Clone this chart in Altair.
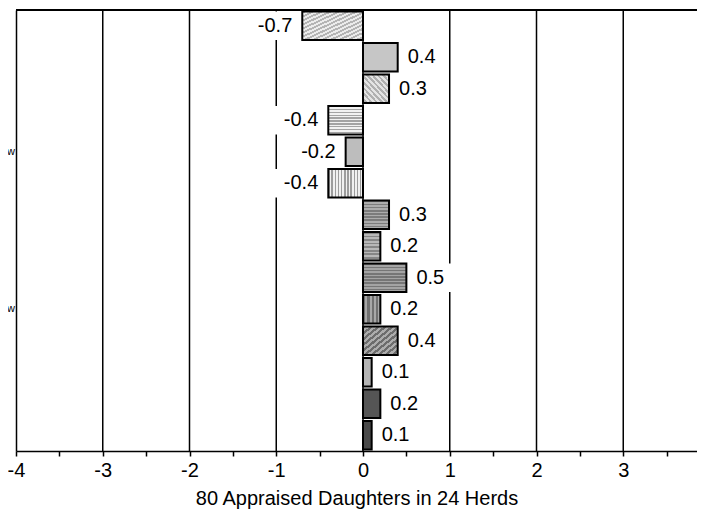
import altair as alt
import pandas as pd

# ---- data ----
rows = list(range(1, 15))
values = [-0.7, 0.4, 0.3, -0.4, -0.2, -0.4, 0.3, 0.2, 0.5, 0.2, 0.4, 0.1, 0.2, 0.1]
x_ticks = [-4, -3.5, -3, -2.5, -2, -1.5, -1, -0.5, 0, 0.5, 1, 1.5, 2, 2.5, 3, 3.5]
grid_at = [-3, -2, -1, 0, 1, 2, 3]
side_rows = [5, 10]
side_text = ["w", "w"]
x_title = "80 Appraised Daughters in 24 Herds"

PLOT_W = 681
XMIN = -4
XMAX = XMIN + PLOT_W / 86.75   # the reference's 86.75 px per unit; its right part is cut off
FONT = "Liberation Sans"
FS = 20


def stripes(c1, c2, n, x1, y1, x2, y2):
    stops = []
    for k in range(n):
        a, m, b = k / n, (k + 0.5) / n, (k + 1) / n
        stops += [
            {"offset": a, "color": c1},
            {"offset": m, "color": c1},
            {"offset": m, "color": c2},
            {"offset": b, "color": c2},
        ]
    return {"gradient": "linear", "x1": x1, "y1": y1, "x2": x2, "y2": y2, "stops": stops}


H = (0, 0, 0, 1)   # horizontal lines
V = (0, 0, 1, 0)   # vertical lines
D1 = (0, 0, 1, 1)  # "/" hatch
D2 = (1, 0, 0, 1)  # "\" hatch

fills = [
    stripes("#b4b4b4", "#ececec", 14, *D1),
    "#c6c6c6",
    stripes("#b0b0b0", "#e4e4e4", 10, *D2),
    stripes("#a4a4a4", "#f2f2f2", 10, *H),
    "#bdbdbd",
    stripes("#9c9c9c", "#f0f0f0", 11, *V),
    stripes("#7c7c7c", "#acacac", 9, *H),
    stripes("#868686", "#b8b8b8", 8, *H),
    stripes("#767676", "#a4a4a4", 9, *H),
    stripes("#707070", "#a8a8a8", 4, *V),
    stripes("#6c6c6c", "#acacac", 10, *D1),
    "#b4b4b4",
    "#555555",
    "#4a4a4a",
]

df = pd.DataFrame({"row": rows, "value": values})
df["label"] = [f"{v:.1f}" for v in values]

grid_df = pd.DataFrame({"g": grid_at})
side_df = pd.DataFrame({"row": side_rows, "t": side_text})

xscale = alt.Scale(domain=[XMIN, XMAX], nice=False, zero=False)
yscale = alt.Scale(paddingInner=0.1, paddingOuter=0.05)

xaxis = alt.Axis(
    values=x_ticks,
    labelExpr="datum.value % 1 == 0 ? '' + datum.value : ''",
    grid=False,
    tickSize=5,
    tickWidth=1.5,
    tickColor="black",
    domainColor="black",
    domainWidth=1.5,
    labelFontSize=FS,
    labelFont=FONT,
    labelColor="black",
    labelPadding=4,
    labelFlush=False,
    labelOverlap=False,
    title=x_title,
    titleFont=FONT,
    titleFontSize=FS,
    titleFontWeight="normal",
    titleColor="black",
    titlePadding=8,
)
yaxis = alt.Axis(labels=False, ticks=False, title=None, grid=False,
                 domainColor="black", domainWidth=1.5)

Y = alt.Y("row:O", scale=yscale, axis=yaxis)

grid = alt.Chart(grid_df).mark_rule(color="black", strokeWidth=1.5).encode(
    x=alt.X("g:Q", scale=xscale, axis=xaxis)
)

boxes = (
    alt.Chart(df)
    .transform_calculate(ext="0.25 + 0.1 * length(datum.label)")
    .transform_calculate(
        lo="datum.value < 0 ? datum.value - datum.ext : datum.value",
        hi="datum.value < 0 ? datum.value : datum.value + datum.ext",
    )
    .mark_bar(fill="white")
    .encode(x=alt.X("lo:Q", scale=xscale, axis=xaxis), x2="hi:Q", y=Y)
)

bars = []
for r, f in zip(rows, fills):
    bars.append(
        alt.Chart(df)
        .transform_filter(alt.datum.row == r)
        .mark_bar(fill=f, stroke="black", strokeWidth=2)
        .encode(x=alt.X("value:Q", scale=xscale, axis=xaxis, stack=None), y=Y)
    )

pos_text = (
    alt.Chart(df)
    .transform_filter("datum.value >= 0")
    .mark_text(align="left", baseline="middle", dx=10, fontSize=FS, font=FONT, color="black")
    .encode(x=alt.X("value:Q", scale=xscale, axis=xaxis), y=Y, text="label:N")
)
neg_text = (
    alt.Chart(df)
    .transform_filter("datum.value < 0")
    .mark_text(align="right", baseline="middle", dx=-10, fontSize=FS, font=FONT, color="black")
    .encode(x=alt.X("value:Q", scale=xscale, axis=xaxis), y=Y, text="label:N")
)

side = (
    alt.Chart(side_df)
    .mark_text(align="right", baseline="middle", dx=-1, fontSize=11, font=FONT, color="black")
    .encode(x=alt.value(0), y=alt.Y("row:O", scale=yscale, axis=yaxis), text="t:N")
)

top = (
    alt.Chart(grid_df)
    .mark_rule(color="black", strokeWidth=1.5)
    .encode(x=alt.datum(XMIN), x2=alt.datum(XMAX), y=alt.value(0))
)

chart = (
    alt.layer(grid, boxes, *bars, pos_text, neg_text, side, top)
    .properties(
        width=PLOT_W,
        height=441,
        autosize=alt.AutoSizeParams(type="none"),
        padding={"left": 8, "top": 2, "right": 0, "bottom": 62},
    )
    .configure_view(stroke=None)
)

chart.save("out.html", embed_options={"renderer": "svg", "actions": False})
